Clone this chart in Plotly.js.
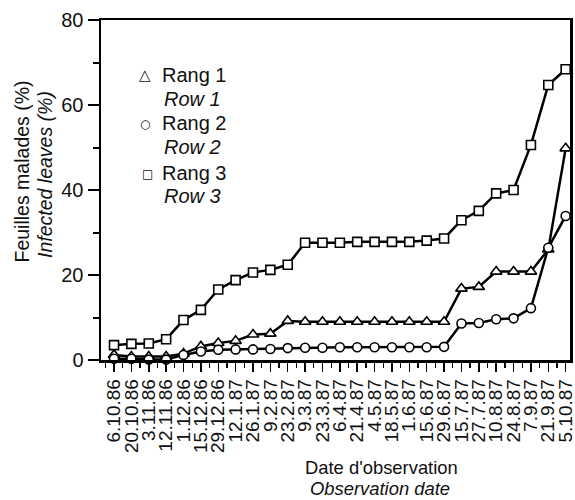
<!DOCTYPE html>
<html>
<head>
<meta charset="utf-8">
<script src="https://cdn.plot.ly/plotly-3.0.1.min.js"></script>
<style>html,body{margin:0;padding:0;background:#fff;}#chart{width:575px;height:500px;}</style>
</head>
<body>
<div id="chart"></div>
<script>
var dates = ["6.10.86","20.10.86","3.11.86","12.11.86","1.12.86","15.12.86","29.12.86","12.1.87","26.1.87","9.2.87","23.2.87","9.3.87","23.3.87","6.4.87","21.4.87","4.5.87","18.5.87","1.6.87","15.6.87","29.6.87","15.7.87","27.7.87","10.8.87","24.8.87","7.9.87","21.9.87","5.10.87"];
var rang1 = [1.2,0.8,0.8,0.8,1.5,3.2,4.0,4.5,6.0,6.2,9.2,9.0,9.0,9.0,9.0,9.0,9.0,9.0,9.0,9.0,16.8,17.2,20.8,20.8,20.8,26.0,49.8];
var rang2 = [0.3,0.3,0.1,0.1,1.2,2.0,2.4,2.5,2.5,2.6,2.8,2.9,2.9,3.0,3.0,3.0,3.0,3.0,3.0,3.1,8.6,8.7,9.6,9.8,12.2,26.4,33.9];
var rang3 = [3.5,3.8,3.9,4.9,9.4,11.8,16.6,18.8,20.6,21.2,22.4,27.6,27.6,27.6,27.8,27.8,27.8,27.8,28.1,28.6,32.9,35.1,39.2,40.0,50.6,64.7,68.4];
var legendFr = ["Rang 1","Rang 2","Rang 3"];
var legendEn = ["Row 1","Row 2","Row 3"];
var legendSym = ["\u25B3","\u25CB","\u25A1"];
var yTicks = [0,20,40,60,80];

var xi = dates.map(function(d,i){return i;});
var FONT = "Liberation Sans, Arial, Helvetica, sans-serif";
var sizes = [10,9,9];
var data = [];
[rang1,rang2,rang3].forEach(function(s,k){
  data.push({x:xi,y:s,type:"scatter",mode:"lines+markers",showlegend:false,cliponaxis:false,
    line:{color:"#000",width:2.5},
    marker:{symbol:["triangle-up","circle","square"][k],size:sizes[k],color:"#fff",line:{color:"#000",width:1.6}}});
});

function px2x(p){return (p-101)/469;}
function px2y(p){return (360-p)/340;}
var ann = [
  {x:px2x(21.5),y:px2y(172),text:"Feuilles malades (%)",textangle:-90,xanchor:"center",yanchor:"middle",font:{size:19.5}},
  {x:px2x(45),y:px2y(175),text:"<i>Infected leaves (%)</i>",textangle:-90,xanchor:"center",yanchor:"middle",font:{size:19.5}},
  {x:px2x(381),y:px2y(467),text:"Date d'observation",xanchor:"center",yanchor:"middle",font:{size:18.4}},
  {x:px2x(380),y:px2y(488),text:"<i>Observation date</i>",xanchor:"center",yanchor:"middle",font:{size:18.4}}
];
var symY = [75,124,174], frY = [75,123,172.7], enY = [99,147,196], symX=[145,145,147];
for (var k=0;k<3;k++){
  ann.push({x:px2x(symX[k]),y:px2y(symY[k]),text:legendSym[k],xanchor:"center",yanchor:"middle",font:{size:[15,12,12][k],family:"DejaVu Sans"}});
  ann.push({x:px2x(160),y:px2y(frY[k]),text:legendFr[k],xanchor:"left",yanchor:"middle",font:{size:20}});
  ann.push({x:px2x(162),y:px2y(enY[k]),text:"<i>"+legendEn[k]+"</i>",xanchor:"left",yanchor:"middle",font:{size:20}});
}
ann.forEach(function(a){a.xref="paper";a.yref="paper";a.showarrow=false;});

var layout = {
  width:575,height:500,
  margin:{l:101,r:5,t:20,b:140},
  paper_bgcolor:"#fff",plot_bgcolor:"#fff",
  font:{family:FONT,size:18,color:"#111"},
  showlegend:false,
  xaxis:{range:[-0.75,26.25],tickmode:"array",tickvals:xi,ticktext:dates,tickangle:-90,ticklabeloverflow:"allow",
    ticks:"outside",ticklen:9,tickwidth:1.5,tickcolor:"#000",showline:true,linewidth:2.5,linecolor:"#000",mirror:true,
    showgrid:false,zeroline:false,tickfont:{size:19},
    minor:{tick0:-0.5,dtick:0.5,ticks:"outside",ticklen:5,tickwidth:1.3,tickcolor:"#000",showgrid:false}},
  yaxis:{range:[0,80],tickmode:"array",tickvals:yTicks,ticks:"outside",ticklen:11,tickwidth:2,tickcolor:"#000",
    showline:true,linewidth:2.5,linecolor:"#000",mirror:true,showgrid:false,zeroline:false,tickfont:{size:20},
    minor:{tick0:0,dtick:10,ticks:"outside",ticklen:6,tickwidth:2,tickcolor:"#000",showgrid:false}},
  annotations:ann
};
Plotly.newPlot("chart",data,layout,{displayModeBar:false,staticPlot:true});
</script>
</body>
</html>
